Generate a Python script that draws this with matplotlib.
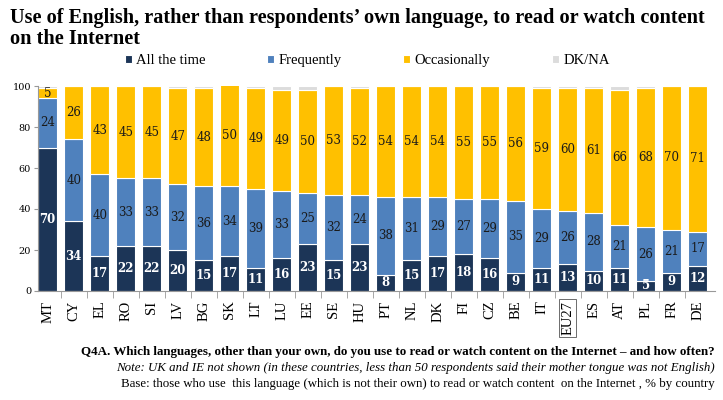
import numpy as np
import matplotlib.pyplot as plt

countries = ["MT", "CY", "EL", "RO", "SI", "LV", "BG", "SK", "LT", "LU", "EE", "SE", "HU",
             "PT", "NL", "DK", "FI", "CZ", "BE", "IT", "EU27", "ES", "AT", "PL", "FR", "DE"]
all_time = [70, 34, 17, 22, 22, 20, 15, 17, 11, 16, 23, 15, 23, 8, 15, 17, 18, 16, 9, 11, 13, 10, 11, 5, 9, 12]
frequently = [24, 40, 40, 33, 33, 32, 36, 34, 39, 33, 25, 32, 24, 38, 31, 29, 27, 29, 35, 29, 26, 28, 21, 26, 21, 17]
occasionally = [5, 26, 43, 45, 45, 47, 48, 50, 49, 49, 50, 53, 52, 54, 54, 54, 55, 55, 56, 59, 60, 61, 66, 68, 70, 71]
dkna = [1, 0, 0, 0, 0, 1, 1, 0, 1, 2, 2, 0, 1, 0, 0, 0, 0, 0, 0, 1, 1, 1, 2, 1, 0, 0]

labels = ["All the time", "Frequently", "Occasionally", "DK/NA"]
colors = ["#1c3557", "#4f81bd", "#ffc000", "#dcdcdc"]
txt_colors = ["white", "#1a1a1a", "#1a1a1a", None]

serif = "Liberation Serif"

fig = plt.figure(figsize=(7.23, 4.0), dpi=100)
ax = fig.add_axes([0.0526, 0.2725, 0.9364, 0.5125])

x = np.arange(len(countries))
bottom = np.zeros(len(countries))
for vals, col, tc, lab in zip([all_time, frequently, occasionally, dkna], colors, txt_colors, labels):
    vals = np.array(vals, dtype=float)
    ax.bar(x, vals, 0.73, bottom=bottom, color=col, edgecolor="white", linewidth=0.8, label=lab)
    if tc is not None:
        for xi, b, v in zip(x, bottom, vals):
            if v > 0:
                ax.text(xi, b + v / 2, str(int(v)), ha="center", va="center", fontsize=8.5,
                        color=tc, family="DejaVu Serif",
                        fontweight="bold" if tc == "white" else "normal")
    bottom += vals

ax.set_xlim(-0.37, 25.67)
ax.set_ylim(0, 100)
ax.set_yticks([0, 20, 40, 60, 80, 100])
ax.tick_params(axis="y", labelsize=7, length=3, color="#999999", pad=2)
for t in ax.get_yticklabels():
    t.set_family("DejaVu Serif")

ax.set_xticks(x)
ax.set_xticklabels(countries, rotation=90, family=serif, fontsize=10.5)
ax.tick_params(axis="x", length=0, pad=7)
ax.set_xticks(np.arange(len(countries) - 1) + 0.5, minor=True)
ax.tick_params(axis="x", which="minor", length=5, color="#999999")

eu = ax.get_xticklabels()[countries.index("EU27")]
eu.set_bbox(dict(facecolor="white", edgecolor="#555555", linewidth=0.6, pad=1.5))

for s in ["top", "right"]:
    ax.spines[s].set_visible(False)
for s in ["left", "bottom"]:
    ax.spines[s].set_color("#999999")

fig.text(0.014, 0.98, "Use of English, rather than respondents\u2019 own language, to read or watch content\non the Internet",
         ha="left", va="top", family=serif, fontweight="bold", fontsize=14.6, linespacing=1.1)

fig.legend(loc="center", bbox_to_anchor=(0.508, 0.848), ncol=4, frameon=False,
           prop={"family": serif, "size": 10.5}, handlelength=0.5, handleheight=0.5,
           handletextpad=0.3, columnspacing=4.2)

fig.text(0.989, 0.12, "Q4A. Which languages, other than your own, do you use to read or watch content on the Internet \u2013 and how often?",
         ha="right", va="center", family=serif, fontweight="bold", fontsize=9.4)
fig.text(0.989, 0.08, "Note: UK and IE not shown (in these countries, less than 50 respondents said their mother tongue was not English)",
         ha="right", va="center", family=serif, style="italic", fontsize=9.3)
fig.text(0.989, 0.04, "Base: those who use  this language (which is not their own) to read or watch content  on the Internet , % by country",
         ha="right", va="center", family=serif, fontsize=9.3)

fig.savefig("out.png", dpi=100)
